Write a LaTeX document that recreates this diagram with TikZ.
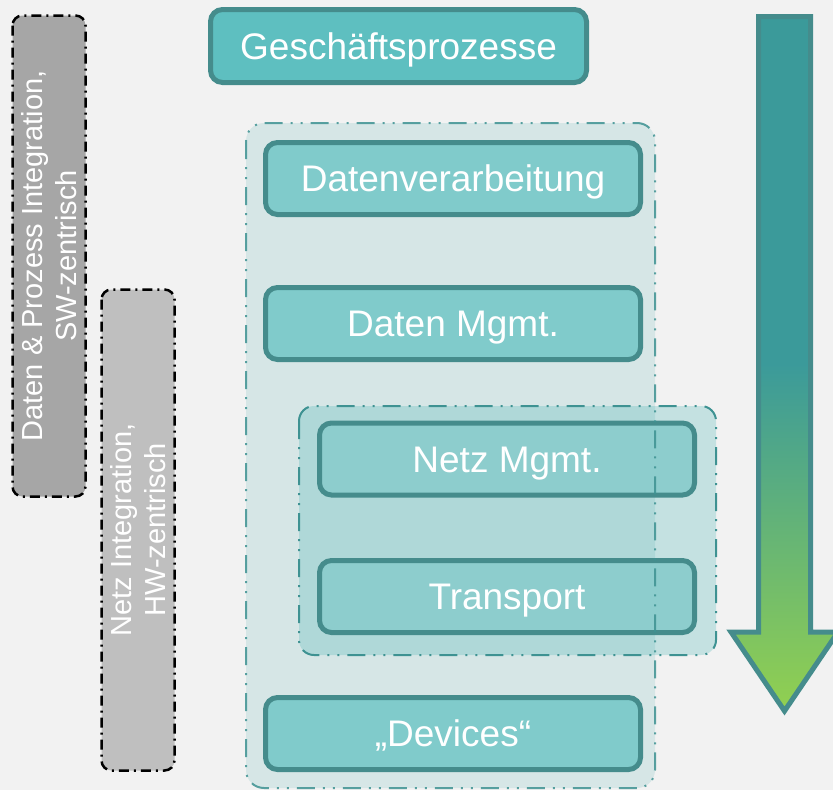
\documentclass[tikz,border=0pt]{standalone}
\usepackage{fontspec}
\setmainfont{Liberation Sans}

\definecolor{hgrund}{HTML}{F2F2F2}
\definecolor{rand}{HTML}{458C8C}
\definecolor{strich}{HTML}{3E9292}
\definecolor{kopf}{HTML}{5EBFC0}
\definecolor{kasten}{HTML}{80CBCB}
\definecolor{kastenin}{HTML}{8DCDCD}
\definecolor{aussen}{HTML}{D6E6E6}
\definecolor{innen}{HTML}{3EB2B2}
\definecolor{grauA}{HTML}{A6A6A6}
\definecolor{grauB}{HTML}{BFBFBF}
\definecolor{pfeiloben}{HTML}{3B9A9A}
\definecolor{pfeilunten}{HTML}{92D050}

\tikzset{
    stufe/.style={draw=rand, line width=5pt, rounded corners=12pt, fill=#1,
        text=white, minimum width=375pt, minimum height=72pt,
        text height=26.5pt, text depth=0pt,
        font=\fontsize{37}{44}\selectfont},
    stufe/.default=kasten,
    seite/.style={draw=black, line width=2.5pt, rounded corners=10pt,
        dash pattern=on 10pt off 5pt on 2pt off 5pt, fill=#1, text=white,
        rotate=90, minimum width=481pt, minimum height=73pt, align=center,
        font=\fontsize{29}{34}\selectfont},
    gruppe/.style={draw=strich, line width=2pt,
        dash pattern=on 18pt off 8pt on 2pt off 8pt on 2pt off 8pt},
    pfeil/.style={draw=rand, line width=5pt, top color=pfeiloben,
        bottom color=pfeilunten, middle color=pfeiloben}
}

\begin{document}
\begin{tikzpicture}[x=1pt,y=-1pt]
    \pgfmathsetmacro{\links}{453}
    \pgfmathsetmacro{\rechts}{507}

    \useasboundingbox (0,0) rectangle (833,790);
    \clip (0,0) rectangle (833,790);
    \fill[hgrund] (0,0) rectangle (833,790);

    % Integrationsebenen links
    \node[seite=grauA] (swint) at (49,256) {Daten \& Prozess Integration,\\SW-zentrisch};
    \node[seite=grauB] (hwint) at (138,530) {Netz Integration,\\HW-zentrisch};

    \node[stufe=kopf, minimum width=376pt, minimum height=73pt] (gp) at (398.5,46) {Geschäftsprozesse};

    % grosse Gruppe, Rand kommt spaeter obendrauf
    \fill[aussen, rounded corners=18pt] (246,123) rectangle (655,788);

    \node[stufe] (dv) at (\links,178.5) {Datenverarbeitung};
    \node[stufe] (dm) at (\links,323.5) {Daten Mgmt.};

    \filldraw[gruppe, fill=innen, fill opacity=0.25, rounded corners=15pt] (299,406) rectangle (716,655);
    \node[stufe=kastenin] (nm) at (\rechts,459) {Netz Mgmt.};
    \node[stufe=kastenin] (tr) at (\rechts,596.5) {Transport};

    \node[stufe] (dev) at (\links,733.5) {„Devices“};

    \draw[gruppe, draw opacity=0.85, rounded corners=18pt] (246,123) rectangle (655,788);

    % Pfeil rechts
    \shadedraw[pfeil] (758.5,16.5) -- (810.5,16.5) -- (810.5,632) -- (838,632)
        -- (784.5,711) -- (731,632) -- (758.5,632) -- cycle;

\end{tikzpicture}
\end{document}
